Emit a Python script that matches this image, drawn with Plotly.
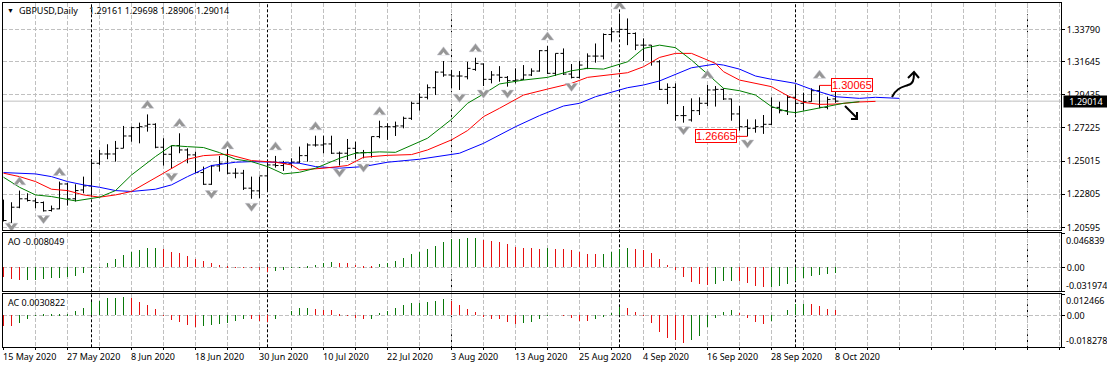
import plotly.graph_objects as go

W, H = 1107, 368

bars = list(range(105))
opens = [1.2243,1.2087,1.2194,1.2250,1.2236,1.2225,1.2172,1.2183,1.2349,1.2250,1.2309,1.2336,1.2487,1.2549,1.2549,1.2587,1.2669,1.2725,1.2736,1.2747,
         1.2594,1.2547,1.2605,1.2576,1.2543,1.2425,1.2347,1.2469,1.2487,1.2421,1.2421,1.2321,1.2303,1.2403,1.2476,1.2472,1.2487,1.2494,1.2538,1.2609,
         1.2609,1.2616,1.2554,1.2554,1.2587,1.2558,1.2558,1.2665,1.2731,1.2731,1.2736,1.2787,1.2887,1.2927,1.2991,1.3095,1.3076,1.3069,1.3064,1.3113,
         1.3149,1.3047,1.3076,1.3060,1.3038,1.3047,1.3076,1.3102,1.3238,1.3087,1.3220,1.3082,1.3060,1.3120,1.3202,1.3202,1.3346,1.3364,1.3380,1.3353,
         1.3275,1.3275,1.3164,1.2980,1.2993,1.2805,1.2776,1.2838,1.2887,1.2976,1.2980,1.2916,1.2816,1.2731,1.2720,1.2731,1.2747,1.2860,1.2838,1.2927,
         1.2887,1.2898,1.2971,1.2860,1.29161]
highs = [1.2243,1.2227,1.2305,1.2287,1.2254,1.2232,1.2205,1.2365,1.2358,1.2347,1.2398,1.2516,1.2576,1.2614,1.2636,1.2736,1.2731,1.2758,1.2813,1.2754,
         1.2654,1.2605,1.2687,1.2587,1.2565,1.2465,1.2476,1.2536,1.2587,1.2454,1.2443,1.2398,1.2398,1.2509,1.2536,1.2503,1.2520,1.2598,1.2620,1.2671,
         1.2671,1.2671,1.2565,1.2649,1.2631,1.2576,1.2665,1.2771,1.2754,1.2765,1.2798,1.2898,1.2953,1.3013,1.3102,1.3169,1.3109,1.3102,1.3164,1.3191,
         1.3153,1.3102,1.3135,1.3069,1.3120,1.3142,1.3120,1.3242,1.3269,1.3220,1.3253,1.3149,1.3169,1.3220,1.3286,1.3353,1.3393,1.3486,1.3453,1.3360,
         1.3320,1.3275,1.3175,1.3020,1.3020,1.2869,1.2920,1.2927,1.3009,1.3002,1.2987,1.2918,1.2869,1.2780,1.2780,1.2809,1.2927,1.2898,1.2942,1.3002,
         1.2958,1.2987,1.30065,1.2931,1.29698]
lows = [1.2099,1.2083,1.2187,1.2232,1.2187,1.2165,1.2165,1.2181,1.2205,1.2232,1.2287,1.2265,1.2476,1.2514,1.2498,1.2587,1.2631,1.2620,1.2698,1.2587,
        1.2472,1.2454,1.2554,1.2487,1.2421,1.2343,1.2343,1.2432,1.2414,1.2387,1.2309,1.2250,1.2254,1.2309,1.2458,1.2436,1.2458,1.2487,1.2498,1.2598,
        1.2554,1.2549,1.2472,1.2509,1.2516,1.2520,1.2525,1.2654,1.2643,1.2669,1.2720,1.2776,1.2838,1.2913,1.2942,1.3064,1.2987,1.2976,1.3047,1.3104,
        1.3002,1.3020,1.3031,1.2998,1.3020,1.3042,1.3069,1.3098,1.3082,1.3069,1.3076,1.3053,1.3053,1.3115,1.3158,1.3180,1.3298,1.3353,1.3275,1.3242,
        1.3169,1.3138,1.2976,1.2882,1.2771,1.2758,1.2765,1.2809,1.2869,1.2865,1.2909,1.2771,1.2705,1.26665,1.2691,1.2683,1.2742,1.2820,1.2809,1.2816,
        1.2838,1.2898,1.2854,1.2847,1.28906]
closes = [1.2105,1.2194,1.2250,1.2239,1.2225,1.2170,1.2183,1.2349,1.2250,1.2305,1.2336,1.2487,1.2549,1.2549,1.2587,1.2669,1.2725,1.2731,1.2747,1.2594,
          1.2547,1.2605,1.2576,1.2543,1.2425,1.2347,1.2469,1.2487,1.2421,1.2421,1.2321,1.2303,1.2403,1.2476,1.2472,1.2487,1.2494,1.2538,1.2609,1.2609,
          1.2616,1.2554,1.2554,1.2587,1.2558,1.2558,1.2665,1.2731,1.2731,1.2736,1.2787,1.2887,1.2927,1.2991,1.3095,1.3076,1.3069,1.3069,1.3120,1.3153,
          1.3047,1.3076,1.3060,1.3038,1.3042,1.3076,1.3102,1.3238,1.3087,1.3220,1.3082,1.3060,1.3142,1.3202,1.3202,1.3346,1.3364,1.3380,1.3353,1.3275,
          1.3275,1.3164,1.2980,1.2993,1.2805,1.2805,1.2838,1.2887,1.2976,1.2980,1.2916,1.2816,1.2731,1.2720,1.2731,1.2747,1.2860,1.2838,1.2927,1.2887,
          1.2898,1.2971,1.2860,1.2913,1.29014]

jaw_x = [0,4,6,8,10,12,14,16,19,21,23,26,29,31,34,37,39,42,45,48,52,56,57,60,62,64,67,70,72,74,78,80,82,84,86,89,90,92,94,96,99,101,104,107,109,112]
jaw_y = [1.2425,1.2416,1.2398,1.2365,1.2343,1.2327,1.2305,1.2299,1.2314,1.2343,1.2398,1.2472,1.2494,1.2498,1.2494,1.2487,1.2465,1.2454,1.2465,1.2494,1.2514,1.2547,1.2554,1.2620,1.2676,1.2731,1.2805,1.2869,1.2887,1.2931,1.2991,1.3009,1.3036,1.3082,1.3124,1.3149,1.3142,1.3115,1.3069,1.3047,1.3020,1.2980,1.2931,1.2920,1.2927,1.2920]
teeth_x = [0,2,4,6,8,10,12,14,16,18,20,23,25,28,31,34,36,37,40,43,45,48,51,53,56,58,60,62,65,68,71,73,76,78,80,82,84,86,89,90,92,94,96,98,100,102,104,107,109]
teeth_y = [1.2421,1.2398,1.2365,1.2314,1.2305,1.2276,1.2261,1.2276,1.2299,1.2358,1.2421,1.2514,1.2538,1.2547,1.2505,1.2494,1.2476,1.2443,1.2454,1.2472,1.2527,1.2540,1.2545,1.2576,1.2643,1.2705,1.2798,1.2854,1.2942,1.2982,1.3020,1.3060,1.3080,1.3091,1.3131,1.3193,1.3220,1.3220,1.3153,1.3098,1.3042,1.3020,1.2998,1.2938,1.2893,1.2880,1.2882,1.2896,1.2900]
lips_x = [0,2,4,6,9,12,14,16,19,21,23,25,27,29,31,33,35,37,39,42,44,47,49,51,53,56,58,60,62,65,68,71,73,75,78,80,82,84,86,88,90,92,94,96,98,99,102,104,105,107]
lips_y = [1.2394,1.2327,1.2276,1.2265,1.2236,1.2261,1.2305,1.2409,1.2532,1.2605,1.2598,1.2592,1.2558,1.2514,1.2498,1.2465,1.2416,1.2427,1.2454,1.2520,1.2554,1.2563,1.2560,1.2609,1.2654,1.2780,1.2887,1.2949,1.3016,1.3042,1.3060,1.3104,1.3120,1.3115,1.3164,1.3253,1.3275,1.3258,1.3175,1.3082,1.2987,1.2971,1.2942,1.2865,1.2831,1.2825,1.2858,1.2876,1.2887,1.2898]

fractal_up_x = [2,7,18,22,28,34,39,47,55,59,68,77,88,102]
fractal_up_y = [1.2398,1.2461,1.2909,1.2787,1.2638,1.2631,1.2765,1.2865,1.3264,1.3286,1.3364,1.3571,1.3109,1.3109]
fractal_dn_x = [1,5,21,26,31,42,45,57,60,63,71,85,93]
fractal_dn_y = [1.2032,1.2083,1.2365,1.2250,1.2165,1.2394,1.2427,1.2893,1.2920,1.2920,1.2965,1.2676,1.2587]

ao = [-.0125,-.0156,-.0169,-.0169,-.0165,-.0156,-.0142,-.0138,-.0129,-.0116,-.0076,-.0004,.0004,.0058,.0111,.0165,.0205,.0231,.0258,.0258,
      .0249,.0205,.0191,.0151,.0111,.0085,.0062,.0031,.0018,.0004,.0004,.0004,-.0031,-.0058,-.0045,-.0031,.0004,.0004,.0013,.0036,
      .0058,.0071,.0058,.0058,.0031,.0018,.0018,.0045,.0058,.0085,.0125,.0178,.0205,.0245,.0298,.0352,.0383,.0392,.0405,.0405,
      .0378,.0365,.0352,.0325,.0285,.0271,.0258,.0245,.0258,.0245,.0245,.0231,.0205,.0178,.0178,.0178,.0205,.0245,.0258,.0245,
      .0231,.0191,.0111,.0031,-.0031,-.0125,-.0191,-.0231,-.0240,-.0218,-.0182,-.0178,-.0178,-.0205,-.0245,-.0271,-.0271,-.0245,-.0218,-.0178,
      -.0138,-.0111,-.0098,-.0085,-.008049]
ao_falling = [0,1,2]+list(range(20,34))+list(range(42,47))+list(range(60,68))+list(range(69,75))+list(range(79,89))+list(range(92,96))
ac = [-.0061,-.0061,-.0042,-.0019,-.0002,.0006,.0011,.0011,.0011,.0025,.0042,.0076,.0082,.0099,.0099,.0105,.0099,.0076,.0059,.0038,
      .0002,-.0025,-.0036,-.0053,-.0065,-.0059,-.0053,-.0048,-.0042,-.0031,-.0019,-.0019,-.0031,-.0036,-.0019,0,.0025,.0042,.0042,.0036,
      .0031,.0031,.0008,.0002,-.0013,-.0019,-.0019,.0013,.0025,.0042,.0059,.0071,.0071,.0076,.0082,.0094,.0082,.0059,.0036,.0019,
      -.0008,-.0019,-.0019,-.0036,-.0048,-.0042,-.0036,-.0019,.0002,0,-.0002,-.0013,-.0031,-.0031,-.0019,-.0008,.0013,.0048,.0042,.0019,
      .0002,-.0042,-.0094,-.0128,-.0145,-.0157,-.0145,-.0117,-.0065,-.0013,.0019,.0031,.0013,-.0013,-.0036,-.0048,-.0031,0,.0031,.0065,
      .0065,.0065,.0053,.0036,.0030822]
ac_falling = [0,1]+list(range(16,25))+[31,32,33]+list(range(39,46))+list(range(56,65))+list(range(69,74))+list(range(78,86))+list(range(92,96))+[101,102,103,104]

price_ticks = [1.20595,1.22805,1.25015,1.27225,1.29435,1.31645,1.33790]
date_bars = [0,8,16,24,32,40,48,56,64,72,80,88,96,104]
date_labels = ["15 May 2020","27 May 2020","8 Jun 2020","18 Jun 2020","30 Jun 2020","10 Jul 2020","22 Jul 2020","3 Aug 2020","13 Aug 2020","25 Aug 2020","4 Sep 2020","16 Sep 2020","28 Sep 2020","8 Oct 2020"]
period_sep_bars = [11,33,56,77,99,128]
last_price = 1.29014
ao_limits = [-0.031974, 0.046839]
ac_limits = [-0.018278, 0.012466]
high_bar, high_price = 102, 1.30065
low_bar, low_price = 93, 1.26665

FONT = "Noto Sans"
FS = 9
GREEN, RED = "#0a780a", "#e41010"
GRID = "#c0c0c0"
PRICE_PER_PX = 0.000667
def xp(px): return px / W
def yp(py): return 1 - py / H
def bar_at(px): return (px - 3.5) / 8

fig = go.Figure()
fig.add_trace(go.Scatter(x=[high_bar, bar_at(831)], y=[high_price]*2, mode="lines", line=dict(color="#ff0000", width=1), xaxis="x", yaxis="y"))
fig.add_trace(go.Scatter(x=[bar_at(737), low_bar], y=[low_price]*2, mode="lines", line=dict(color="#ff0000", width=1), xaxis="x", yaxis="y"))
fig.add_trace(go.Ohlc(x=bars, open=opens, high=highs, low=lows, close=closes, tickwidth=0.375,
                      increasing=dict(line=dict(color="black", width=1)), decreasing=dict(line=dict(color="black", width=1)),
                      xaxis="x", yaxis="y"))
for xs, ys, c in [(jaw_x, jaw_y, "#0000ff"), (teeth_x, teeth_y, "#ff0000"), (lips_x, lips_y, "#008000")]:
    fig.add_trace(go.Scatter(x=xs, y=ys, mode="lines", line=dict(color=c, width=1), xaxis="x", yaxis="y"))
# fractal values are the arrow tips; markers are placed by their centres, a small white one cuts the notch
def shifted(vals, px): return [v + px * PRICE_PER_PX for v in vals]
for xs, ys, sym, sgn in [(fractal_up_x, fractal_up_y, "triangle-up", -1), (fractal_dn_x, fractal_dn_y, "triangle-down", 1)]:
    fig.add_trace(go.Scatter(x=xs, y=shifted(ys, sgn * 5.5), mode="markers", xaxis="x", yaxis="y",
                             marker=dict(symbol=sym, size=11, color="#969696", line=dict(color="#c8c8d4", width=0.5))))
    fig.add_trace(go.Scatter(x=xs, y=shifted(ys, sgn * 7.25), mode="markers", xaxis="x", yaxis="y",
                             marker=dict(symbol=sym, size=4, color="white", line=dict(width=0))))
fig.add_trace(go.Bar(x=bars, y=ao, width=0.12, marker=dict(color=[RED if i in ao_falling else GREEN for i in bars], line=dict(width=0)), xaxis="x2", yaxis="y2"))
fig.add_trace(go.Bar(x=bars, y=ac, width=0.12, marker=dict(color=[RED if i in ac_falling else GREEN for i in bars], line=dict(width=0)), xaxis="x3", yaxis="y3"))

xdom = [xp(3), xp(1061)]
xrange_ = [bar_at(3), bar_at(1061)]
grid_ticks = list(range(0, 133, 4))
xcommon = dict(domain=xdom, range=xrange_, tickmode="array", tickvals=grid_ticks, showticklabels=False, automargin=False,
               showgrid=True, gridcolor=GRID, griddash="4px,2px", gridwidth=1, zeroline=False,
               showline=True, mirror=True, linecolor="black", linewidth=1)
ycommon = dict(side="right", tickmode="array", automargin=False, showgrid=True, gridcolor=GRID, griddash="4px,2px", gridwidth=1, zeroline=False,
               showline=True, mirror=True, linecolor="black", linewidth=1, ticks="outside", ticklen=3, tickcolor="black", tickwidth=1,
               tickfont=dict(family=FONT, size=FS, color="black"))

annotations = []
def note(text, x, y, xref="paper", yref="paper", xanchor="left", yanchor="middle", color="black", size=FS, **kw):
    annotations.append(dict(text=text, x=x, y=y, xref=xref, yref=yref, xanchor=xanchor, yanchor=yanchor, showarrow=False,
                            borderpad=kw.pop("borderpad", 0), font=dict(family=kw.pop("family", FONT), size=size, color=color), **kw))

note("▼", xp(6), yp(11), size=7)
note("GBPUSD,Daily", xp(18), yp(11))
note("1.29161 1.29698 1.28906 1.29014", xp(88), yp(11))
note("AO -0.008049", xp(7), yp(241.5))
note("AC 0.0030822", xp(7), yp(302.5))
note("%.6f" % ao_limits[1], xp(1065), yp(240))
note("%.6f" % ao_limits[0], xp(1065), yp(285))
note("%.6f" % ac_limits[1], xp(1065), yp(300.5))
note("%.6f" % ac_limits[0], xp(1065), yp(340))
for b, lab in zip(date_bars, date_labels):
    note(lab, b, yp(356), xref="x3", xshift=-2)
note("1.30065", bar_at(831), high_price, xref="x", yref="y", color="#ff0000", size=11, family="Liberation Sans",
     bgcolor="white", bordercolor="#ff0000", borderwidth=1, borderpad=0)
note("1.26665", bar_at(737), low_price, xref="x", yref="y", xanchor="right", color="#ff0000", size=11, family="Liberation Sans",
     bgcolor="white", bordercolor="#ff0000", borderwidth=1, borderpad=0)
note("1.29014", xp(1063), last_price, yref="y", color="white", bgcolor="black", width=44, height=11, align="center")

shapes = [dict(type="line", xref="x", yref="paper", x0=b, x1=b, y0=yp(347.3), y1=yp(2.5), layer="below",
               line=dict(color="black", width=1, dash="3px,2px")) for b in period_sep_bars]
shapes.append(dict(type="line", xref="paper", yref="y", x0=xdom[0], x1=xdom[1], y0=last_price, y1=last_price, layer="below",
                   line=dict(color=GRID, width=1)))
def P(px, py): return "%.5f,%.5f" % (xp(px), yp(py))
arrows = ["M%s C%s %s %s C%s %s %s" % (P(892,97), P(896,88), P(903,87), P(908,85), P(913,84), P(914,80), P(914,73)),
          "M%s L%s L%s" % (P(908,78), P(914,72), P(919,78)),
          "M%s L%s" % (P(845,106), P(857,118)),
          "M%s L%s L%s" % (P(851,119), P(857,119), P(857,112))]
for p in arrows:
    shapes.append(dict(type="path", path=p, xref="paper", yref="paper", line=dict(color="black", width=2)))

fig.update_layout(
    width=W, height=H, margin=dict(l=0, r=0, t=0, b=0, autoexpand=False), paper_bgcolor="white", plot_bgcolor="white",
    showlegend=False, hovermode=False, bargap=0, barmode="overlay", annotations=annotations, shapes=shapes,
    xaxis=dict(**xcommon, anchor="y", rangeslider=dict(visible=False)),
    xaxis2=dict(**xcommon, anchor="y2"),
    xaxis3=dict(**xcommon, anchor="y3", ticks="outside", ticklen=2, tickcolor="black"),
    yaxis=dict(**ycommon, domain=[yp(230), yp(3)], range=[1.2042, 1.3556], anchor="x",
               tickvals=price_ticks, ticktext=["%.5f" % v for v in price_ticks]),
    yaxis2=dict(**ycommon, domain=[yp(291), yp(233)], range=ao_limits, anchor="x2",
                tickvals=[ao_limits[0], 0, ao_limits[1]], ticktext=["", "0.00", ""]),
    yaxis3=dict(**ycommon, domain=[yp(347), yp(294)], range=ac_limits, anchor="x3",
                tickvals=[ac_limits[0], 0, ac_limits[1]], ticktext=["", "0.00", ""]),
)
fig.write_html("out.html", config=dict(displayModeBar=False),
               post_script="document.body.style.margin='0';document.documentElement.style.overflow='hidden';")
